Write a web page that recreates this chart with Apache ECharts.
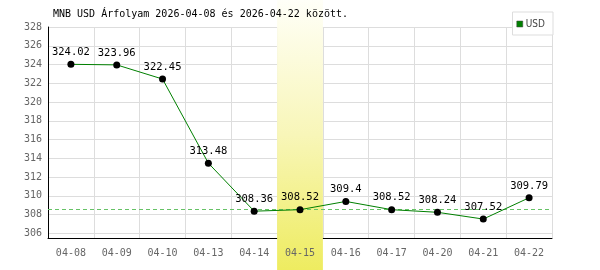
<!DOCTYPE html>
<html><head><meta charset="utf-8">
<script src="https://cdn.jsdelivr.net/npm/echarts@6/dist/echarts.min.js"></script>
<style>html,body{margin:0;padding:0;background:#fff}#c{width:600px;height:270px}</style>
</head><body><div id="c"></div>
<script>
const categories = ['04-08','04-09','04-10','04-13','04-14','04-15','04-16','04-17','04-20','04-21','04-22'];
const usdValues = [324.02,323.96,322.45,313.48,308.36,308.52,309.4,308.52,308.24,307.52,309.79];
const yTicks = [306,308,310,312,314,316,318,320,322,324,326,328];
const highlightIndex = 5;
const referenceValue = 308.52;
const titleText = 'MNB USD Árfolyam 2026-04-08 és 2026-04-22 között.';

const band = categories.map((c,i)=> i===highlightIndex ? 1 : null);
const mono = 'DejaVu Sans Mono';
const refColor = '#66c266';
const chart = echarts.init(document.getElementById('c'), null, {renderer:'canvas'});
chart.setOption({
  animation:false,
  backgroundColor:'#fff',
  title:{text:titleText,left:53,top:9,padding:0,z:10,textStyle:{fontFamily:mono,fontSize:10,fontWeight:'normal',color:'#000'}},
  legend:{data:['USD'],right:47,top:12,backgroundColor:'#fff',borderColor:'#ddd',borderWidth:1,borderRadius:0,
    padding:[7,8,6,4],itemWidth:6,itemHeight:6,itemGap:4,icon:'rect',
    itemStyle:{color:'#008000',borderColor:'#444',borderWidth:0.5},
    textStyle:{fontFamily:'DejaVu Sans Condensed',fontSize:10,color:'#444',padding:[0,0,0,-2]}},
  grid:[{left:48,right:48,top:27,bottom:32},{left:48,right:48,top:0,bottom:0}],
  xAxis:[
    {type:'category',data:categories,gridIndex:0,boundaryGap:true,z:0,
     axisLine:{lineStyle:{color:'#000',width:1}},axisTick:{show:false},
     axisLabel:{show:false},
     splitLine:{show:true,interval:0,lineStyle:{color:'#ddd',width:1}}},
    {type:'category',data:categories,gridIndex:1,show:false,boundaryGap:true},
    {type:'category',data:categories,gridIndex:0,position:'bottom',boundaryGap:true,z:10,
     axisLine:{show:false},axisTick:{show:false},splitLine:{show:false},
     axisLabel:{fontFamily:mono,fontSize:10,color:'#666',margin:10}}
  ],
  yAxis:[
    {type:'value',gridIndex:0,min:305.5,max:328,z:0,
     axisLine:{show:true,lineStyle:{color:'#000',width:1}},
     axisTick:{show:false,customValues:yTicks},
     axisLabel:{customValues:yTicks,fontFamily:mono,fontSize:10,color:'#666',margin:6},
     splitLine:{show:true,lineStyle:{color:'#ddd',width:1}}},
    {type:'value',gridIndex:1,min:0,max:1,show:false}
  ],
  series:[
    {type:'bar',xAxisIndex:1,yAxisIndex:1,data:band,barWidth:'100%',z:1,silent:true,legendHoverLink:false,
     itemStyle:{color:new echarts.graphic.LinearGradient(0,0,0,1,[{offset:0,color:'#fffff8'},{offset:0.5,color:'#f8f6b8'},{offset:1,color:'#eeec60'}])}},
    {name:'ref',type:'line',xAxisIndex:0,yAxisIndex:0,data:[],z:3,silent:true,
     color:refColor,itemStyle:{color:refColor},lineStyle:{color:refColor},
     markLine:{silent:true,symbol:['none','none'],label:{show:false},
       lineStyle:{color:refColor,type:[4,3],width:1,opacity:1},
       data:[{yAxis:referenceValue}]}},
    {name:'USD',type:'line',xAxisIndex:0,yAxisIndex:0,data:usdValues,z:5,
     color:'#008000',
     lineStyle:{color:'#008000',width:1},
     symbol:'circle',symbolSize:7,itemStyle:{color:'#000'},
     label:{show:true,position:'top',distance:3,fontFamily:mono,fontSize:10.5,color:'#000'}}
  ]
});
</script></body></html>
